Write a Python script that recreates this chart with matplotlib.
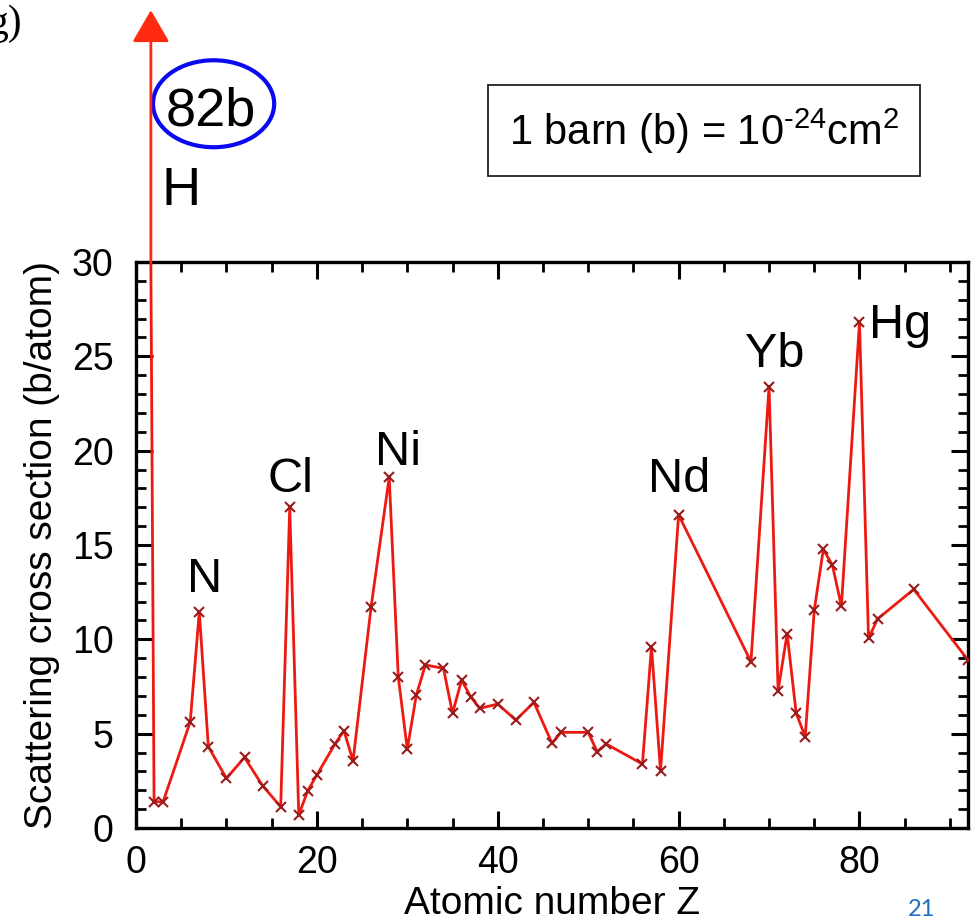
import matplotlib
matplotlib.use("Agg")
import matplotlib.pyplot as plt
from matplotlib.patches import Ellipse
from matplotlib.ticker import MultipleLocator

plt.rcParams['font.family'] = ['Liberation Sans', 'DejaVu Sans']
plt.rcParams['mathtext.default'] = 'regular'

# atomic number and scattering cross section (b/atom)
Z = [1, 2, 3, 6, 7, 8, 10, 12, 14, 16, 17, 18, 19, 20, 22, 23, 24, 26, 28, 29,
     30, 31, 32, 34, 35, 36, 37, 38, 40, 42, 44, 46, 47, 50, 51, 52, 56, 57, 58,
     60, 68, 70, 71, 72, 73, 74, 75, 76, 77, 78, 80, 81, 82, 86, 92]
sigma = [82, 1.39, 1.39, 5.63, 11.46, 4.31, 2.63, 3.74, 2.24, 1.13, 17.0, 0.69,
         1.98, 2.81, 4.45, 5.16, 3.55, 11.73, 18.6, 8.02, 4.17, 7.05, 8.64,
         8.46, 6.08, 7.84, 6.96, 6.34, 6.57, 5.72, 6.66, 4.49, 5.07, 5.07, 4.04,
         4.45, 3.39, 9.61, 3.02, 16.6, 8.81, 23.4, 7.28, 10.3, 6.08, 4.84, 11.55,
         14.77, 13.94, 11.76, 26.8, 10.05, 11.08, 12.65, 8.9]

# element labels: (text, x, baseline y)
labels = [("N", 7.6, 12.5), ("Cl", 17.05, 17.8), ("Ni", 28.95, 19.25),
          ("Nd", 60.1, 17.8), ("Yb", 70.6, 24.45), ("Hg", 84.5, 25.95)]

xticks = [0, 20, 40, 60, 80]
yticks = [0, 5, 10, 15, 20, 25, 30]

fig = plt.figure(figsize=(9.72, 9.21), dpi=100)
ax = fig.add_axes([0.1399, 0.1010, 0.8560, 0.6145])

ax.plot(Z, sigma, color='#ee1a12', lw=2.0, marker='x', ms=7.5, mew=1.5,
        mec='#9a1c1c', zorder=3)

ax.set_xlim(0, 92)
ax.set_ylim(0, 30)
ax.set_xticks(xticks)
ax.set_yticks(yticks)
ax.xaxis.set_minor_locator(MultipleLocator(5))
ax.yaxis.set_minor_locator(MultipleLocator(1))
ax.tick_params(which='both', direction='in', top=True, right=True,
               labelsize=27, width=2.2)
ax.tick_params(which='major', length=12)
ax.tick_params(which='minor', length=7, width=2.0)
ax.tick_params(axis='y', pad=16)
ax.tick_params(axis='x', pad=12)
for sp in ax.spines.values():
    sp.set_linewidth(2.4)

ax.set_xlabel("Atomic number Z", fontsize=28)
ax.set_ylabel("Scattering cross section (b/atom)", fontsize=28)
ax.xaxis.set_label_coords(0.5, -0.102)
ax.yaxis.set_label_coords(-0.091, 0.5)

for txt, x, y in labels:
    ax.text(x, y, txt, fontsize=35, ha='center', va='baseline')

# arrow for H (82 b), continuing the H -> He segment above the frame
x_cross = Z[0] + (sigma[0] - 30) / (sigma[0] - sigma[1]) * (Z[1] - Z[0])
ax.annotate('', xy=(x_cross, 1.445), xycoords=('data', 'axes fraction'),
            xytext=(x_cross, 1.0), textcoords=('data', 'axes fraction'),
            arrowprops=dict(arrowstyle='-|>,head_length=1.0,head_width=0.58',
                            mutation_scale=20, lw=2.0, color='#ff2a10',
                            shrinkA=0, shrinkB=0))

ax.text(4.98, 33.0, "H", fontsize=39, ha='center', va='baseline')
ax.text(8.3, 37.25, "%db" % sigma[0], fontsize=39, ha='center', va='baseline')
ax.add_patch(Ellipse((8.58, 38.39), 13.4, 4.61, fill=False, ec='#0a0af0',
                     lw=3.0, clip_on=False))

ax.text(62.8, 36.95, "1 barn (b) = 10$^{\u201024}$cm$^{2}$", fontsize=30,
        ha='center', va='center',
        bbox=dict(boxstyle='square,pad=0.5', fc='white', ec='#222222', lw=1.3))

fig.text(22 / 972, 1 - 24 / 921, "g)", fontsize=30, ha='right', va='center',
         family=['Liberation Serif', 'DejaVu Serif'])
fig.text(922 / 972, 1 - 909 / 921, "21", fontsize=17, ha='center', va='center',
         color='#1f6fc0', family=['Lato', 'DejaVu Sans'])

fig.savefig("out.png", dpi=100)
